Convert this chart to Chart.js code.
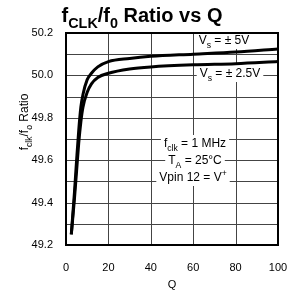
<!DOCTYPE html>
<html>
<head>
<meta charset="utf-8">
<script src="https://cdn.jsdelivr.net/npm/chart.js@4"></script>
<style>
  html, body { margin: 0; padding: 0; background: #fff; }
  #wrap { width: 289px; height: 295px; }
</style>
</head>
<body>
<div id="wrap"><canvas id="c" width="289" height="295"></canvas></div>
<script>
// Q values
const qValues = [2.5, 4, 5, 6, 7, 8, 10, 12, 15, 20, 30, 40, 60, 80, 100];
const ratio5V = [49.25, 49.45, 49.6, 49.74, 49.85, 49.91, 49.98, 50.01, 50.04, 50.065, 50.08, 50.09, 50.10, 50.11, 50.125];
const ratio25V = [49.25, 49.42, 49.55, 49.68, 49.78, 49.85, 49.92, 49.96, 49.99, 50.01, 50.03, 50.04, 50.05, 50.055, 50.065];
const xTicks = [0, 20, 40, 60, 80, 100];
const yGrid = [49.2, 49.3, 49.4, 49.5, 49.6, 49.7, 49.8, 49.9, 50.0, 50.1, 50.2];
const yTicks = [49.2, 49.4, 49.6, 49.8, 50.0, 50.2];

const FONT = '"Liberation Sans", Arial, sans-serif';

function toPoints(xs, ys) {
  return xs.map((x, i) => ({ x: x, y: ys[i] }));
}

// draws text with subscript / superscript parts: [[text, 'n'|'sub'|'sup'], ...]
function richText(ctx, parts, x, y, size, bold, align) {
  const mk = (s) => (bold ? 'bold ' : '') + s + 'px ' + FONT;
  let w = 0;
  parts.forEach(p => {
    ctx.font = mk(p[1] === 'n' ? size : size * 0.72);
    w += ctx.measureText(p[0]).width;
  });
  let cx = align === 'center' ? x - w / 2 : x;
  ctx.textAlign = 'left';
  ctx.textBaseline = 'alphabetic';
  parts.forEach(p => {
    const s = p[1] === 'n' ? size : size * 0.72;
    ctx.font = mk(s);
    let dy = 0;
    if (p[1] === 'sub') dy = size * 0.3;
    if (p[1] === 'sup') dy = -size * 0.4;
    ctx.fillText(p[0], cx, y + dy);
    cx += ctx.measureText(p[0]).width;
  });
  return w;
}

function label(ctx, parts, x, y, size) {
  // white box behind the label so gridlines are interrupted
  ctx.save();
  let w = 0;
  parts.forEach(p => {
    ctx.font = (p[1] === 'n' ? size : size * 0.72) + 'px ' + FONT;
    w += ctx.measureText(p[0]).width;
  });
  ctx.fillStyle = '#fff';
  ctx.fillRect(x - w / 2 - 3, y - size, w + 6, size + 5);
  ctx.fillStyle = '#000';
  richText(ctx, parts, x, y, size, false, 'center');
  ctx.restore();
}

const decor = {
  id: 'decor',
  beforeDatasetsDraw(chart) {
    const ctx = chart.ctx;
    const a = chart.chartArea;
    const xs = chart.scales.x, ys = chart.scales.y;
    ctx.save();
    ctx.fillStyle = '#444';
    xTicks.forEach(v => {
      const px = Math.round(xs.getPixelForValue(v));
      ctx.fillRect(px, a.top, 1, a.bottom - a.top);
    });
    yGrid.forEach(v => {
      const py = Math.round(ys.getPixelForValue(v));
      ctx.fillRect(a.left, py, a.right - a.left, 1);
    });
    ctx.restore();
    label(ctx, [['V', 'n'], ['s', 'sub'], [' = \u00b1 5V', 'n']], 224, 44, 12);
    label(ctx, [['V', 'n'], ['s', 'sub'], [' = \u00b1 2.5V', 'n']], 230, 77, 12);
    label(ctx, [['f', 'n'], ['clk', 'sub'], [' = 1 MHz', 'n']], 195, 147, 12);
    label(ctx, [['T', 'n'], ['A', 'sub'], [' = 25\u00b0C', 'n']], 195, 164, 12);
    label(ctx, [['Vpin 12 = V', 'n'], ['+', 'sup']], 193, 181, 12);
  },
  afterDraw(chart) {
    const ctx = chart.ctx;
    const a = chart.chartArea;
    ctx.save();
    ctx.strokeStyle = '#000';
    ctx.lineWidth = 2;
    ctx.strokeRect(a.left, a.top, a.right - a.left, a.bottom - a.top);
    ctx.fillStyle = '#000';
    richText(ctx, [['f', 'n'], ['CLK', 'sub'], ['/f', 'n'], ['0', 'sub'], [' Ratio vs Q', 'n']], 142, 22, 20, true, 'center');
    ctx.font = '11px ' + FONT;
    ctx.textAlign = 'center';
    ctx.fillText('Q', 172, 288);
    ctx.translate(28, 122);
    ctx.rotate(-Math.PI / 2);
    richText(ctx, [['f', 'n'], ['clk', 'sub'], ['/f', 'n'], ['o', 'sub'], [' Ratio', 'n']], 0, 0, 12, false, 'center');
    ctx.restore();
  }
};

new Chart(document.getElementById('c').getContext('2d'), {
  type: 'line',
  data: {
    datasets: [
      { label: 'Vs = ±5V', data: toPoints(qValues, ratio5V) },
      { label: 'Vs = ±2.5V', data: toPoints(qValues, ratio25V) }
    ].map(d => Object.assign(d, {
      borderColor: '#000',
      borderWidth: 3,
      pointRadius: 0,
      cubicInterpolationMode: 'monotone',
      fill: false
    }))
  },
  options: {
    responsive: false,
    animation: false,
    layout: { padding: { left: 0, right: 11, top: 33, bottom: 0 } },
    plugins: { legend: { display: false }, tooltip: { enabled: false } },
    scales: {
      x: {
        type: 'linear', min: 0, max: 100,
        afterBuildTicks: s => { s.ticks = xTicks.map(v => ({ value: v })); },
        afterFit: s => { s.height = 50; s.paddingRight = 0; s.paddingLeft = 0; },
        grid: { display: false },
        border: { display: false },
        ticks: { color: '#000', font: { family: FONT, size: 11 }, padding: 8, maxRotation: 0, autoSkip: false }
      },
      y: {
        type: 'linear', min: 49.2, max: 50.2,
        afterBuildTicks: s => { s.ticks = yTicks.map(v => ({ value: v })); },
        afterFit: s => { s.width = 66; s.paddingTop = 0; s.paddingBottom = 0; },
        grid: { display: false },
        border: { display: false },
        ticks: {
          color: '#000', font: { family: FONT, size: 11 }, padding: 5, autoSkip: false,
          callback: v => v.toFixed(1)
        }
      }
    }
  },
  plugins: [decor]
});
</script>
</body>
</html>
